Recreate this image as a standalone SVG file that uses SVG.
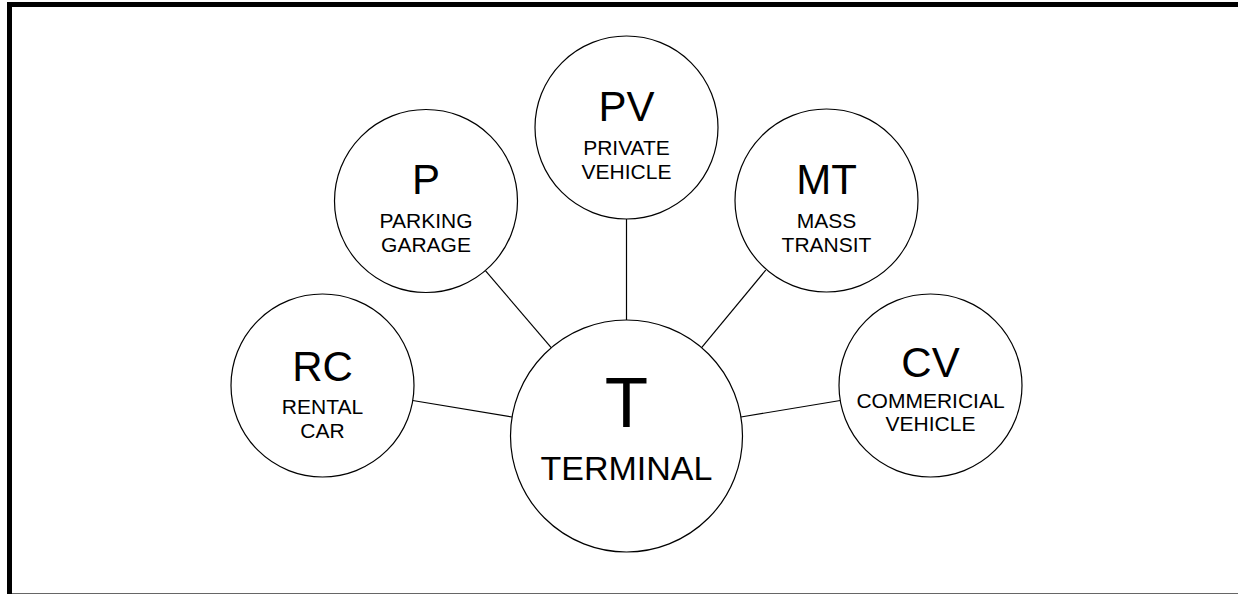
<svg xmlns="http://www.w3.org/2000/svg" width="1238" height="594" viewBox="0 0 1238 594">
<style>
.node circle{fill:#fff;stroke:#000;stroke-width:1.2}
.big{font-family:"Liberation Sans",Arial,sans-serif;font-size:42px;text-anchor:middle;fill:#000}
.sub{font-family:"Liberation Sans",Arial,sans-serif;font-size:21px;text-anchor:middle;fill:#000}
#connectors line{stroke:#000;stroke-width:1.2}
</style>
<rect x="0" y="0" width="1238" height="594" fill="#fff"/>
<path d="M9.5 594 L9.5 4.5 L1238 4.5" fill="none" stroke="#000" stroke-width="5" stroke-linejoin="miter"/>
<line x1="12" y1="593.5" x2="1238" y2="593.5" stroke="#666" stroke-width="1"/>
<g id="connectors">
<line x1="412.7" y1="400.5" x2="512.1" y2="417"/>
<line x1="485.4" y1="270.6" x2="551.2" y2="347.7"/>
<line x1="626.5" y1="219" x2="626.5" y2="320"/>
<line x1="765.7" y1="270.2" x2="701.6" y2="347.6"/>
<line x1="840.3" y1="400.5" x2="740.9" y2="417"/>
</g>
<g id="node-T" class="node">
<circle cx="626.5" cy="436" r="116"/>
<text class="big" x="626.5" y="427" style="font-size:71px">T</text>
<text class="sub" x="626.5" y="480" style="font-size:34px">TERMINAL</text>
</g>
<g id="node-RC" class="node">
<circle cx="322.5" cy="385.5" r="91.5"/>
<text class="big" x="322.5" y="381">RC</text>
<text class="sub" x="322.5" y="414">RENTAL</text>
<text class="sub" x="322.5" y="438">CAR</text>
</g>
<g id="node-P" class="node">
<circle cx="426" cy="201" r="91.5"/>
<text class="big" x="426" y="194">P</text>
<text class="sub" x="426" y="228">PARKING</text>
<text class="sub" x="426" y="252">GARAGE</text>
</g>
<g id="node-PV" class="node">
<circle cx="626.5" cy="127.5" r="91.5"/>
<text class="big" x="626.5" y="121">PV</text>
<text class="sub" x="626.5" y="155">PRIVATE</text>
<text class="sub" x="626.5" y="179">VEHICLE</text>
</g>
<g id="node-MT" class="node">
<circle cx="826.5" cy="200.5" r="91.5"/>
<text class="big" x="826.5" y="194">MT</text>
<text class="sub" x="826.5" y="228">MASS</text>
<text class="sub" x="826.5" y="252">TRANSIT</text>
</g>
<g id="node-CV" class="node">
<circle cx="930.5" cy="385.5" r="91.5"/>
<text class="big" x="930.5" y="377">CV</text>
<text class="sub" x="930.5" y="408">COMMERICIAL</text>
<text class="sub" x="930.5" y="431">VEHICLE</text>
</g>
</svg>
